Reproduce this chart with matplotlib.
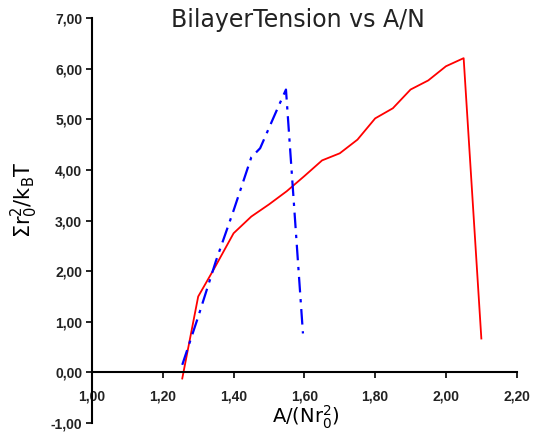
#BilayerTension vs A/N line chart
import matplotlib.pyplot as plt
from matplotlib.ticker import FuncFormatter

# red series (solid)
red_x = [1.255, 1.30, 1.345, 1.40, 1.45, 1.50, 1.55, 1.60, 1.65, 1.70, 1.75, 1.80,
         1.85, 1.90, 1.95, 2.00, 2.05, 2.10]
red_y = [-0.12, 1.50, 2.05, 2.75, 3.08, 3.32, 3.58, 3.88, 4.19, 4.33, 4.60, 5.02,
         5.22, 5.59, 5.77, 6.05, 6.21, 0.67]

# blue series (dash-dot)
blue_x = [1.255, 1.30, 1.35, 1.40, 1.45, 1.475, 1.52, 1.548, 1.596]
blue_y = [0.15, 1.10, 2.20, 3.20, 4.25, 4.43, 5.15, 5.59, 0.77]

xticks = [1.0, 1.2, 1.4, 1.6, 1.8, 2.0, 2.2]
yticks = [-1, 0, 1, 2, 3, 4, 5, 6, 7]

plt.rcParams['mathtext.default'] = 'regular'

fig = plt.figure(figsize=(5.39, 4.33), dpi=100)
ax = fig.add_axes([0.1707, 0.023, 0.788, 0.935])

ax.plot(red_x, red_y, color='#ff0000', lw=1.3)
ax.plot(blue_x, blue_y, color='#0000ff', lw=1.6, linestyle=(0, (7, 3, 1.5, 3)))

ax.set_xlim(1.0, 2.2)
ax.set_ylim(-1, 7)
ax.set_xticks(xticks)
ax.set_yticks(yticks)
fmt = FuncFormatter(lambda v, p: ('%.2f' % v).replace('.', ','))
ax.xaxis.set_major_formatter(fmt)
ax.yaxis.set_major_formatter(fmt)

ax.spines['top'].set_visible(False)
ax.spines['right'].set_visible(False)
ax.spines['bottom'].set_position(('data', 0))
ax.spines['left'].set_linewidth(1.5)
ax.spines['bottom'].set_linewidth(1.5)

ax.tick_params(axis='x', direction='out', length=4, width=1.2, pad=8)
ax.tick_params(axis='y', direction='out', length=4, width=1.2, pad=3)
for lab in ax.get_xticklabels() + ax.get_yticklabels():
    lab.set_fontfamily('Liberation Sans')
    lab.set_fontweight('bold')
    lab.set_fontsize(10)
    lab.set_color('#222222')

fig.text(0.553, 0.953, 'BilayerTension vs A/N', ha='center', va='center',
         fontsize=17, fontfamily='DejaVu Sans', color='#222222')
fig.text(0.046, 0.538, r'$\Sigma r_0^2/k_BT$', ha='center', va='center',
         rotation=90, fontsize=15, fontfamily='DejaVu Sans')
fig.text(0.568, 0.022, r'$A/(Nr_0^2)$', ha='center', va='baseline',
         fontsize=14, fontfamily='DejaVu Sans')

fig.savefig('out.png', dpi=100)
